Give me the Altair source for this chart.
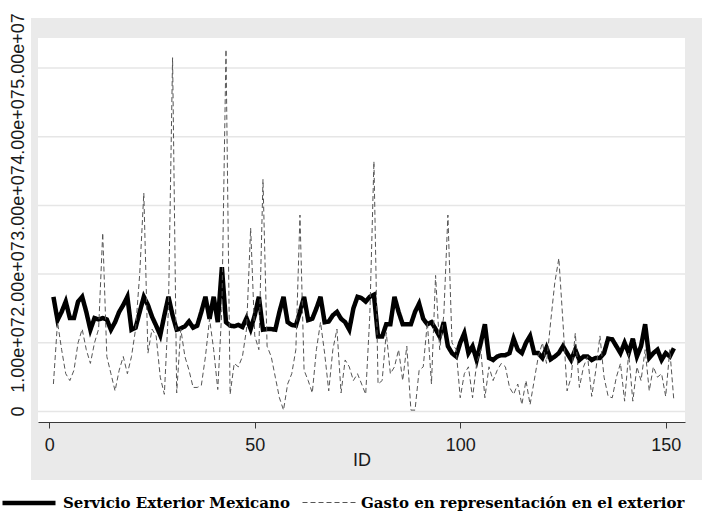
import altair as alt
import pandas as pd

# ---- data (in millions) ----
ids = list(range(1, 153))

servicio_mill = [
    16.7, 13.3, 14.5, 16.0, 13.6, 13.6, 16.0, 16.7, 14.5, 11.9,
    13.6, 13.4, 13.6, 13.4, 11.9, 13.0, 14.5, 15.5, 16.7, 11.9,
    12.2, 14.5, 16.7, 15.5, 13.8, 12.5, 11.1, 14.0, 16.7, 14.0,
    11.9, 12.1, 12.4, 13.1, 12.2, 12.5, 14.5, 16.7, 13.5, 16.7,
    13.0, 21.0, 13.0, 12.5, 12.4, 12.6, 12.3, 13.6, 12.0, 14.0,
    16.7, 11.9, 12.0, 12.0, 11.9, 14.5, 16.7, 13.0, 12.6, 12.5,
    14.5, 16.7, 13.3, 13.5, 15.0, 16.7, 13.0, 13.1, 14.0, 14.5,
    13.5, 13.0, 11.9, 15.0, 16.7, 16.5, 16.0, 16.7, 17.0, 10.9,
    10.9, 12.7, 12.7, 16.7, 14.5, 12.7, 12.7, 12.7, 14.5, 15.7,
    13.5, 12.7, 13.0, 12.0, 10.9, 13.0, 9.5, 8.5, 8.0, 10.0,
    11.4, 8.5, 9.5, 7.5, 10.0, 12.7, 7.8, 7.5, 8.0, 8.2,
    8.2, 8.5, 10.6, 9.0, 8.5, 10.0, 11.0, 8.5, 8.5, 7.8,
    9.3, 7.6, 8.0, 8.5, 9.5, 8.5, 7.5, 9.0, 7.5, 8.0,
    8.0, 7.5, 7.8, 7.8, 8.5, 10.6, 10.5, 9.5, 8.5, 10.0,
    8.5, 10.6, 8.0, 9.5, 12.7, 7.8, 8.5, 9.0, 7.5, 8.5,
    8.0, 9.2,
]

gasto_mill = [
    4.0, 13.0, 9.0, 5.5, 4.5, 6.0, 10.0, 12.0, 9.0, 7.0,
    10.0, 12.0, 26.0, 8.0, 5.5, 3.0, 6.0, 8.0, 5.5, 8.0,
    12.0, 20.0, 31.8, 8.5, 12.0, 11.0, 5.0, 2.5, 15.0, 51.5,
    2.7, 12.0, 8.0, 6.0, 3.5, 3.5, 3.8, 8.0, 13.5, 9.0,
    3.2, 15.0, 52.7, 2.5, 7.0, 6.5, 8.0, 12.0, 26.7, 11.0,
    9.0, 33.8, 9.5, 8.0, 5.0, 2.0, 0.2, 4.0, 5.5, 9.0,
    28.6, 6.0, 4.5, 2.7, 9.0, 13.0, 8.5, 3.0, 9.0, 12.0,
    2.7, 7.5, 6.5, 4.5, 5.5, 4.0, 2.5, 14.0, 36.4, 4.0,
    4.5, 11.5, 5.5, 6.5, 9.0, 4.5, 9.5, 0.2, 0.2, 6.0,
    6.5, 13.0, 4.0, 19.8, 9.0, 14.0, 28.6, 10.0, 9.0, 2.0,
    5.5, 6.5, 2.0, 7.0, 9.0, 2.0, 6.5, 4.5, 6.0, 7.0,
    6.5, 3.5, 2.5, 4.0, 1.0, 4.5, 1.0, 4.5, 8.0, 10.0,
    7.0, 13.0, 18.7, 22.3, 13.0, 3.0, 5.0, 11.4, 3.5, 6.5,
    8.0, 2.2, 6.0, 11.0, 5.0, 2.2, 2.0, 5.0, 7.0, 1.5,
    8.5, 1.5, 6.5, 4.5, 9.0, 3.0, 6.5, 5.0, 5.5, 2.2,
    9.0, 1.5,
]

series_names = ["Servicio Exterior Mexicano", "Gasto en representación en el exterior"]
y_ticks = [0, 10000000, 20000000, 30000000, 40000000, 50000000]
y_tick_labels = ["0", "1.00e+07", "2.00e+07", "3.00e+07", "4.00e+07", "5.00e+07"]
x_ticks = [0, 50, 100, 150]

rows = []
for i, s, g in zip(ids, servicio_mill, gasto_mill):
    rows.append({"ID": i, "valor": s * 1e6, "serie": series_names[0]})
    rows.append({"ID": i, "valor": g * 1e6, "serie": series_names[1]})
df = pd.DataFrame(rows)

W, H = 647, 384
GRAY = "#EAEAEA"
x_scale = alt.Scale(domain=[-2.75, 154.7], nice=False, zero=False)
y_scale = alt.Scale(domain=[-1530000, 54370000], nice=False, zero=False)

one = pd.DataFrame({"k": [0]})


def band(x, x2, y, y2):
    return alt.Chart(one).mark_rect(color=GRAY).encode(
        x=alt.value(x), x2=alt.value(x2), y=alt.value(y), y2=alt.value(y2)
    )


frame = [
    band(-7, W + 17, -20, 0),
    band(-7, W + 17, H, H + 58),
    band(-7, 0, 0, H),
    band(W, W + 17, 0, H),
]

grid = alt.Chart(pd.DataFrame({"t": y_ticks})).mark_rule(
    color="#E6E6E6", strokeWidth=1.5
).encode(y=alt.Y("t:Q", scale=y_scale, axis=None))

leg = alt.Legend(
    title=None,
    orient="none",
    legendX=-38,
    legendY=436,
    direction="horizontal",
    labelFont="DejaVu Serif",
    labelFontWeight="bold",
    labelFontSize=15,
    labelColor="#000000",
    labelLimit=600,
    labelOffset=5,
    symbolType="stroke",
    symbolSize=2809,
    columnPadding=10,
)

lines = alt.Chart(df).mark_line().encode(
    x=alt.X(
        "ID:Q",
        scale=x_scale,
        axis=alt.Axis(
            values=x_ticks,
            title="ID",
            grid=False,
            zindex=1,
            labelFont="Liberation Sans",
            labelFontSize=18,
            labelColor="#1a1a1a",
            labelPadding=8,
            labelFlush=False,
            titleFont="Liberation Sans",
            titleFontSize=18,
            titleFontWeight="normal",
            titleColor="#1a1a1a",
            titlePadding=-3,
            domainColor="#3a3a3a",
            tickColor="#3a3a3a",
            tickSize=6,
        ),
    ),
    y=alt.Y(
        "valor:Q",
        scale=y_scale,
        axis=alt.Axis(
            values=y_ticks,
            title=None,
            grid=False,
            zindex=1,
            labels=False,
            domainColor="#3a3a3a",
            tickColor="#3a3a3a",
            tickSize=7,
        ),
    ),
    color=alt.Color("serie:N", scale=alt.Scale(domain=series_names, range=["#000000", "#555555"]), legend=leg),
    strokeDash=alt.StrokeDash("serie:N", scale=alt.Scale(domain=series_names, range=[[1, 0], [5, 3]]), legend=leg),
    strokeWidth=alt.StrokeWidth("serie:N", scale=alt.Scale(domain=series_names, range=[4.5, 1.0]), legend=leg),
)

# y tick labels, rotated and spread along the axis as in the reference
ylabels = alt.Chart(pd.DataFrame({"t": y_ticks, "lab": y_tick_labels})).transform_calculate(
    pos="datum.t == 0 ? 0 : datum.t - (19.5 - 7.3 * datum.t / 10000000) * 10000000 / 68.7"
).mark_text(
    angle=270, align="center", baseline="alphabetic",
    font="Liberation Sans", fontSize=18, color="#1a1a1a",
).encode(
    y=alt.Y("pos:Q", scale=y_scale, axis=None),
    x=alt.value(-14),
    text="lab:N",
)

chart = alt.layer(*frame, grid, lines, ylabels).properties(
    width=W,
    height=H,
    autosize=alt.AutoSizeParams(type="none"),
    padding={"left": 38, "top": 38, "right": 25, "bottom": 94},
    background="white",
).configure_view(stroke=None)

chart.save("out.html", embed_options={"renderer": "svg", "actions": False})
